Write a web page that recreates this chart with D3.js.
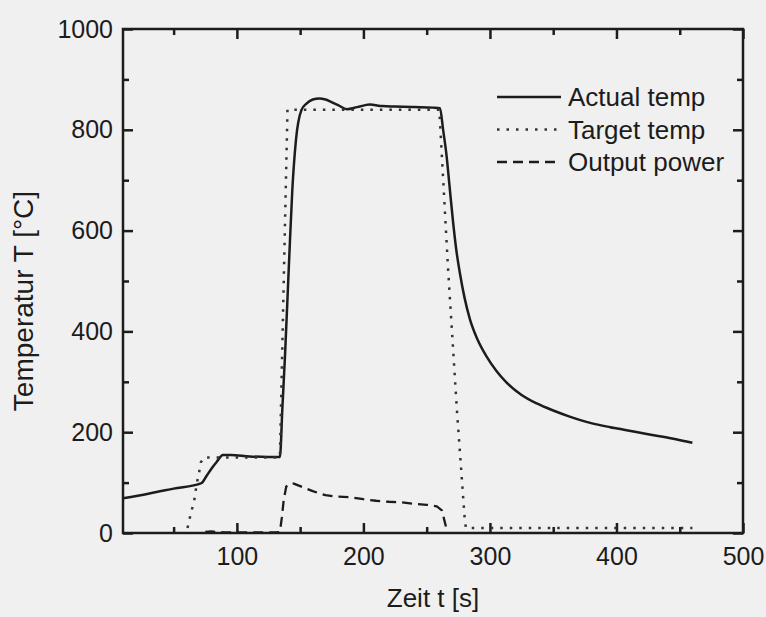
<!DOCTYPE html>
<html>
<head>
<meta charset="utf-8">
<script src="https://cdn.jsdelivr.net/npm/d3@7"></script>
<style>
  html, body { margin: 0; padding: 0; background: #f0f0f0; }
  svg { display: block; font-family: "Liberation Sans", Arial, sans-serif; }
</style>
</head>
<body>
<div id="chart"></div>
<script>
// actual temperature (solid)
const actualTime = [10, 30, 50, 72, 76, 80, 84, 89, 95, 110, 125, 134, 136, 138, 141.4, 143.8, 146.7, 151, 155, 160, 165, 170, 174, 180, 187, 195, 205, 215, 225, 240, 255, 260.5, 263, 265.8, 268, 271, 273.5, 276.3, 280, 284.2, 290, 297.4, 305, 313, 325, 337, 350, 363, 380, 395, 408, 425, 445, 460]
const actualTemp = [69, 78, 88, 99, 113, 128, 141, 155, 155, 152, 151, 151, 250, 350, 548, 680, 780, 839, 852, 860, 862, 860, 856, 849, 841, 845, 850, 847, 846, 845, 844, 843, 800, 747, 690, 614, 560, 515, 466, 424, 385, 350, 322, 299, 274, 257, 243, 231, 218, 210, 204, 196, 187, 179]

// target temperature (dotted)
const targetTime = [61, 63, 65, 67, 68, 70, 71.5, 74, 134, 140, 260, 267, 274, 280, 281, 460]
const targetTemp = [10, 32, 52, 73, 95, 118, 140, 150, 150, 840, 840, 520, 240, 30, 10, 10]

// output power (dashed)
const powerTime = [75, 80, 90, 100, 110, 120, 130, 134, 135.5, 137, 139, 141, 145, 150, 155, 160, 170, 180, 190, 200, 210, 220, 230, 240, 250, 258, 262, 264, 266]
const powerValue = [2, 3, 1, 1, 1, 1, 1, 2, 30, 65, 92, 97, 98, 93, 88, 83, 75, 72, 71, 67, 64, 62, 61, 58, 56, 53, 45, 25, 5]

const xTicks = [100, 200, 300, 400, 500]
const yTicks = [0, 200, 400, 600, 800, 1000]
const legendLabels = ["Actual temp", "Target temp", "Output power"]

const width = 766, height = 617
const margin = {top: 29, right: 23, bottom: 84, left: 123}
const ink = "#1c1c1c"

const x = d3.scaleLinear()
    .domain([10, 500])
    .range([margin.left, width - margin.right])

const y = d3.scaleLinear()
    .domain([0, 1000])
    .range([height - margin.bottom, margin.top])

const svg = d3.select("#chart")
  .append("svg")
  .attr("width", width)
  .attr("height", height)

svg.append("rect")
  .attr("width", width).attr("height", height)
  .attr("fill", "#f0f0f0")

const xMinor = d3.range(50, 501, 100)
const yMinor = d3.range(100, 1000, 200)

function styleAxis (g) {
  g.select(".domain").remove()
  g.selectAll(".tick line").attr("stroke", ink).attr("stroke-width", 2.5)
  g.selectAll(".tick text")
    .attr("fill", ink)
    .attr("font-size", 25)
    .attr("font-family", "Liberation Sans, Arial, sans-serif")
}

const bottomY = height - margin.bottom
const rightX = width - margin.right

// bottom axis with labels
svg.append("g")
  .attr("transform", `translate(0,${bottomY})`)
  .call(d3.axisBottom(x).tickValues(xTicks).tickFormat(d3.format("d")).tickSize(-10).tickPadding(14))
  .call(styleAxis)
svg.append("g")
  .attr("transform", `translate(0,${bottomY})`)
  .call(d3.axisBottom(x).tickValues(xMinor).tickSize(-6).tickFormat(""))
  .call(styleAxis)

// top axis
svg.append("g")
  .attr("transform", `translate(0,${margin.top})`)
  .call(d3.axisTop(x).tickValues(xTicks).tickSize(-10).tickFormat(""))
  .call(styleAxis)
svg.append("g")
  .attr("transform", `translate(0,${margin.top})`)
  .call(d3.axisTop(x).tickValues(xMinor).tickSize(-6).tickFormat(""))
  .call(styleAxis)

// left axis with labels
svg.append("g")
  .attr("transform", `translate(${margin.left},0)`)
  .call(d3.axisLeft(y).tickValues(yTicks).tickFormat(d3.format("d")).tickSize(-10).tickPadding(10))
  .call(styleAxis)
svg.append("g")
  .attr("transform", `translate(${margin.left},0)`)
  .call(d3.axisLeft(y).tickValues(yMinor).tickSize(-6).tickFormat(""))
  .call(styleAxis)

// right axis
svg.append("g")
  .attr("transform", `translate(${rightX},0)`)
  .call(d3.axisRight(y).tickValues(yTicks).tickSize(-10).tickFormat(""))
  .call(styleAxis)
svg.append("g")
  .attr("transform", `translate(${rightX},0)`)
  .call(d3.axisRight(y).tickValues(yMinor).tickSize(-6).tickFormat(""))
  .call(styleAxis)

// frame
svg.append("rect")
  .attr("x", margin.left).attr("y", margin.top)
  .attr("width", rightX - margin.left)
  .attr("height", bottomY - margin.top)
  .attr("fill", "none")
  .attr("stroke", ink)
  .attr("stroke-width", 2.5)

const smooth = d3.line()
  .curve(d3.curveMonotoneX)
  .x(d => x(d[0]))
  .y(d => y(d[1]))

const straight = d3.line()
  .x(d => x(d[0]))
  .y(d => y(d[1]))

const series = [
  {name: legendLabels[0], data: d3.zip(actualTime, actualTemp), dash: null, width: 2.5, color: ink, line: smooth},
  {name: legendLabels[1], data: d3.zip(targetTime, targetTemp), dash: "2.5,7", width: 2.5, color: "#333", line: straight},
  {name: legendLabels[2], data: d3.zip(powerTime, powerValue), dash: "10,6", width: 2.3, color: ink, line: straight}
]

series.forEach(s => {
  svg.append("path")
    .datum(s.data)
    .attr("fill", "none")
    .attr("stroke", s.color)
    .attr("stroke-width", s.width)
    .attr("stroke-dasharray", s.dash)
    .attr("stroke-linejoin", "round")
    .attr("d", s.line)
})

// legend
const legend = svg.append("g")
series.forEach((s, i) => {
  const ly = 97 + i * 32.5
  legend.append("line")
    .attr("x1", 497).attr("x2", 561)
    .attr("y1", ly).attr("y2", ly)
    .attr("stroke", s.color)
    .attr("stroke-width", s.width)
    .attr("stroke-dasharray", s.dash)
  legend.append("text")
    .attr("x", 568).attr("y", ly + 9)
    .attr("font-size", 26)
    .attr("fill", ink)
    .text(s.name)
})

// axis titles
svg.append("text")
  .attr("x", (margin.left + rightX) / 2)
  .attr("y", 607)
  .attr("text-anchor", "middle")
  .attr("font-size", 26)
  .attr("fill", ink)
  .text("Zeit t [s]")

svg.append("text")
  .attr("transform", "translate(33,301) rotate(-90)")
  .attr("text-anchor", "middle")
  .attr("font-size", 28)
  .attr("fill", ink)
  .text("Temperatur T [°C]")
</script>
</body>
</html>
